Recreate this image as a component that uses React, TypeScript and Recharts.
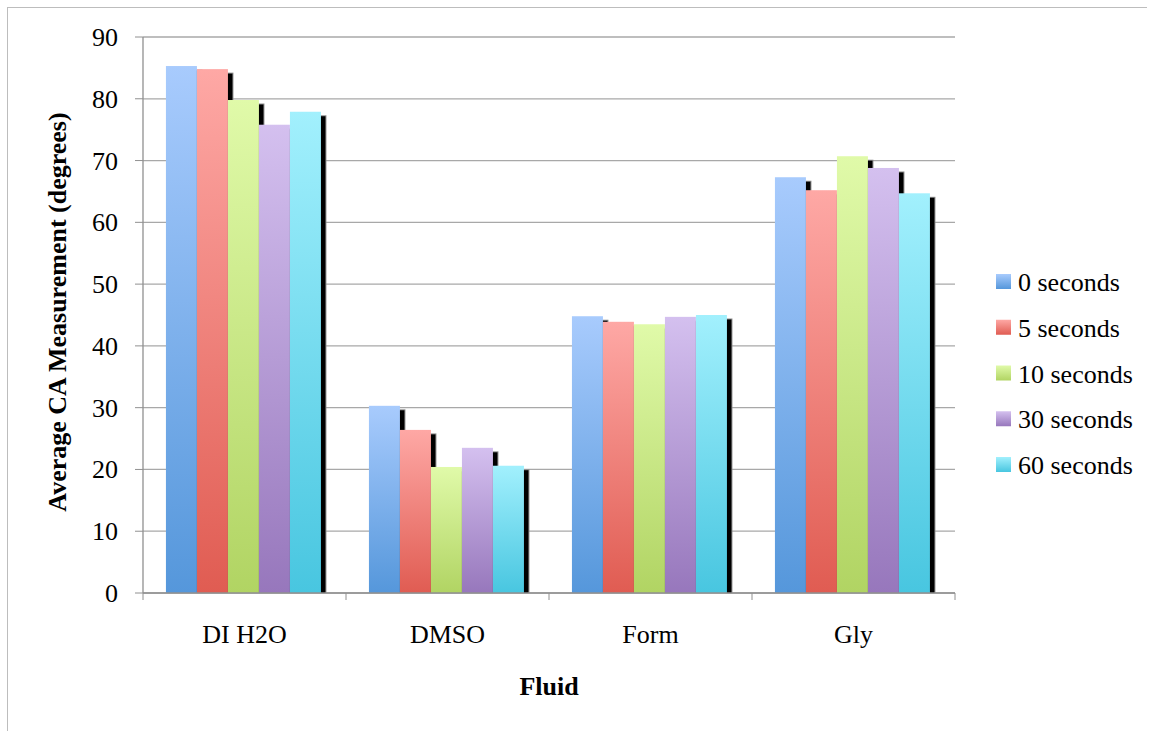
import React from 'react';
import { BarChart, Bar, XAxis, YAxis, CartesianGrid, Label } from 'recharts';

// Fluids measured
const categories = ['DI H2O', 'DMSO', 'Form', 'Gly'];

// Average contact angle (degrees) per exposure time
const seriesNames = ['0 seconds', '5 seconds', '10 seconds', '30 seconds', '60 seconds'];
const sec0 = [85.3, 30.3, 44.8, 67.3];
const sec5 = [84.8, 26.4, 43.9, 65.2];
const sec10 = [79.8, 20.4, 43.5, 70.7];
const sec30 = [75.8, 23.5, 44.7, 68.8];
const sec60 = [77.9, 20.6, 45.0, 64.7];
const seriesValues = [sec0, sec5, sec10, sec30, sec60];

const yTicks = [0, 10, 20, 30, 40, 50, 60, 70, 80, 90];

// top (light) and bottom (dark) colours of each series gradient
const gradientTops = ['#A8CBFD', '#FEA8A5', '#E0FAA9', '#D4C0EF', '#A2F0FD'];
const gradientBottoms = ['#5597DB', '#E05C52', '#B1D463', '#9777BC', '#48C6E0'];

const keys = seriesNames.map((_, i) => `s${i}`);
const rows = categories.map((name, ci) => {
  const row: Record<string, string | number> = { name };
  seriesValues.forEach((vals, si) => {
    row[keys[si]] = vals[ci];
  });
  return row;
});

const FONT = 'Liberation Serif';
const W = 1151;
const H = 731;
const MARGIN = { top: 37, right: 196, bottom: 0, left: 0 };
const Y_AXIS_W = 143;
const X_AXIS_H = 138;
const PLOT_LEFT = MARGIN.left + Y_AXIS_W;
const PLOT_RIGHT = W - MARGIN.right;
const PLOT_BOTTOM = H - X_AXIS_H;
const BAND = (PLOT_RIGHT - PLOT_LEFT) / categories.length;
const AXIS_COLOR = '#909090';

// bar with a dark drop shadow offset down and to the right
const ShadowBar = (props: any) => {
  const { x, y, width, height, index } = props;
  const si = props.seriesIndex as number;
  if (!height || height <= 0) return null;
  const off = 4.5;
  return (
    <g key={`b-${si}-${index}`}>
      <rect x={x + off - 0.5} y={y + off - 1} width={width + 1.5} height={Math.max(0, height - off + 1)} fill="#8a8a8a" />
      <rect x={x + off} y={y + off} width={width} height={Math.max(0, height - off)} fill="#000" />
      <rect x={x} y={y} width={width} height={height} fill={`url(#grad${si})`} />
    </g>
  );
};

const CategoryTick = (props: any) => {
  const { x, y, payload, index } = props;
  const left = x - BAND / 2;
  const right = x + BAND / 2;
  return (
    <g>
      <line x1={left} y1={PLOT_BOTTOM} x2={left} y2={PLOT_BOTTOM + 7} stroke={AXIS_COLOR} strokeWidth={1} />
      {index === categories.length - 1 && (
        <line x1={right} y1={PLOT_BOTTOM} x2={right} y2={PLOT_BOTTOM + 7} stroke={AXIS_COLOR} strokeWidth={1} />
      )}
      <text x={x} y={y + 43} textAnchor="middle" fontFamily={FONT} fontSize={26} fill="#000">
        {payload.value}
      </text>
    </g>
  );
};

const ValueTick = (props: any) => {
  const { x, y, payload } = props;
  return (
    <text x={x} y={y + 9} textAnchor="end" fontFamily={FONT} fontSize={26} fill="#000">
      {payload.value}
    </text>
  );
};

const YTitle = (props: any) => {
  const vb = props.viewBox || { x: 0, y: MARGIN.top, width: Y_AXIS_W, height: PLOT_BOTTOM - MARGIN.top };
  const cx = vb.x + 66;
  const cy = vb.y + vb.height / 2 - 3;
  return (
    <text
      x={cx}
      y={cy}
      transform={`rotate(-90, ${cx}, ${cy})`}
      textAnchor="middle"
      fontFamily={FONT}
      fontWeight="bold"
      fontSize={26}
      fill="#000"
    >
      Average CA Measurement (degrees)
    </text>
  );
};

const XTitle = (props: any) => {
  const vb = props.viewBox || { x: PLOT_LEFT, y: PLOT_BOTTOM, width: PLOT_RIGHT - PLOT_LEFT, height: X_AXIS_H };
  return (
    <text
      x={vb.x + vb.width / 2}
      y={vb.y + 102}
      textAnchor="middle"
      fontFamily={FONT}
      fontWeight="bold"
      fontSize={26}
      fill="#000"
    >
      Fluid
    </text>
  );
};

const LEGEND_ROW = 45.75;

const LegendBox = () => (
  <svg style={{ position: 'absolute', left: 990, top: 255 }} width={160} height={240}>
    <defs>
      {gradientTops.map((top, i) => (
        <linearGradient key={i} id={`lg${i}`} x1="0" y1="0" x2="0" y2="1">
          <stop offset="0%" stopColor={top} />
          <stop offset="100%" stopColor={gradientBottoms[i]} />
        </linearGradient>
      ))}
    </defs>
    {seriesNames.map((name, i) => {
      const cy = 27 + i * LEGEND_ROW;
      return (
        <g key={name}>
          <rect x={6} y={cy - 8} width={15} height={15} fill={`url(#lg${i})`} />
          <text x={28} y={cy + 9} fontFamily={FONT} fontSize={26} fill="#000">
            {name}
          </text>
        </g>
      );
    })}
  </svg>
);

export default function App() {
  return (
    <div style={{ position: 'absolute', left: 0, top: 0, width: W, height: H, background: '#fff', overflow: 'hidden' }}>
      <div
        style={{
          position: 'absolute',
          left: 7,
          top: 7,
          width: 1139,
          height: H,
          borderLeft: '1px solid #BDBDBD',
          borderTop: '1px solid #BDBDBD',
        }}
      />
      <div style={{ position: 'absolute', left: 0, top: 0 }}>
        <BarChart width={W} height={H} data={rows} margin={MARGIN} barCategoryGap="11.3%" barGap={0}>
          <defs>
            {gradientTops.map((top, i) => (
              <linearGradient key={i} id={`grad${i}`} x1="0" y1="0" x2="0" y2="1">
                <stop offset="0%" stopColor={top} />
                <stop offset="100%" stopColor={gradientBottoms[i]} />
              </linearGradient>
            ))}
          </defs>
          <CartesianGrid vertical={false} stroke="#A8A8A8" strokeWidth={1.3} />
          <XAxis
            dataKey="name"
            height={X_AXIS_H}
            axisLine={{ stroke: AXIS_COLOR, strokeWidth: 1.3 }}
            tickLine={false}
            tickSize={7}
            tickMargin={0}
            tick={<CategoryTick />}
            interval={0}
          >
            <Label content={<XTitle />} />
          </XAxis>
          <YAxis
            width={Y_AXIS_W}
            domain={[0, 90]}
            ticks={yTicks}
            interval={0}
            axisLine={{ stroke: AXIS_COLOR, strokeWidth: 1.3 }}
            tickLine={{ stroke: AXIS_COLOR, strokeWidth: 1 }}
            tickSize={8}
            tickMargin={17}
            tick={<ValueTick />}
          >
            <Label content={<YTitle />} />
          </YAxis>
          {keys.map((k, si) => (
            <Bar
              key={k}
              dataKey={k}
              name={seriesNames[si]}
              isAnimationActive={false}
              fill={gradientBottoms[si]}
              shape={(p: any) => <ShadowBar {...p} seriesIndex={si} />}
            />
          ))}
        </BarChart>
      </div>
      <LegendBox />
    </div>
  );
}
